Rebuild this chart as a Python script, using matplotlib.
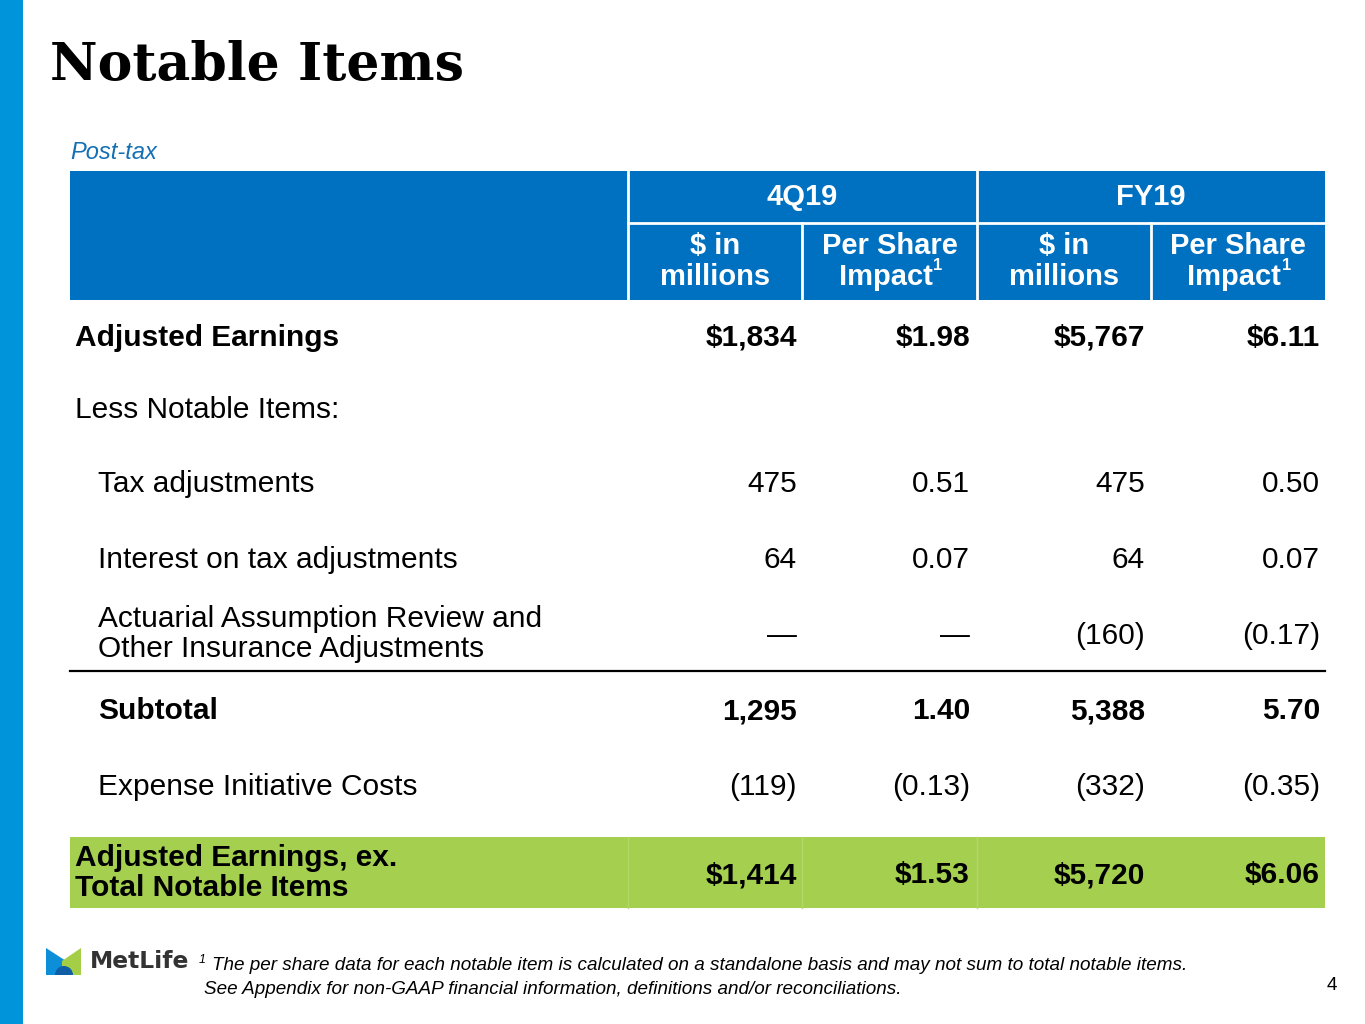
import matplotlib
matplotlib.use("Agg")
import matplotlib.pyplot as plt
from matplotlib.patches import Rectangle, Polygon, Wedge

# table contents
periods = ["4Q19", "FY19"]
sub_top = ["$ in", "Per Share", "$ in", "Per Share"]
sub_bottom = ["millions", "Impact", "millions", "Impact"]
sub_footmark = ["", "1", "", "1"]
row_labels = [
    "Adjusted Earnings",
    "Less Notable Items:",
    "Tax adjustments",
    "Interest on tax adjustments",
    "Actuarial Assumption Review and\nOther Insurance Adjustments",
    "Subtotal",
    "Expense Initiative Costs",
    "Adjusted Earnings, ex.\nTotal Notable Items",
]
q4_millions = ["$1,834", "", "475", "64", "\u2014", "1,295", "(119)", "$1,414"]
q4_per_share = ["$1.98", "", "0.51", "0.07", "\u2014", "1.40", "(0.13)", "$1.53"]
fy_millions = ["$5,767", "", "475", "64", "(160)", "5,388", "(332)", "$5,720"]
fy_per_share = ["$6.11", "", "0.50", "0.07", "(0.17)", "5.70", "(0.35)", "$6.06"]
bold_rows = [0, 5, 7]
indent_rows = [2, 3, 4, 5, 6]

footnote1 = "The per share data for each notable item is calculated on a standalone basis and may not sum to total notable items."
footnote2 = "See Appendix for non-GAAP financial information, definitions and/or reconciliations."

# colours
side_blue = "#0095DA"
head_blue = "#0070C0"
green = "#A5CF4F"
sans = "Liberation Sans"

fig = plt.figure(figsize=(13.65, 10.24), dpi=100)
ax = fig.add_axes([0, 0, 1, 1])
ax.set_xlim(0, 1365)
ax.set_ylim(1024, 0)
ax.axis("off")

# left stripe
ax.add_patch(Rectangle((0, 0), 23, 1024, color=side_blue, lw=0))

ax.text(50, 80, "Notable Items", family="DejaVu Serif", fontweight="bold",
        fontsize=37.5, va="baseline", ha="left", color="black")
ax.text(70, 159, "Post-tax", family=sans, style="italic", fontsize=17,
        va="baseline", ha="left", color="#1370B5")

# header band
left, right = 70, 1325
col_edges = [628, 802, 977, 1151, 1325]
ax.add_patch(Rectangle((left, 171), right - left, 129, color=head_blue, lw=0))
ax.plot([628, 628], [171, 300], color="white", lw=2)
ax.plot([977, 977], [171, 300], color="white", lw=2)
ax.plot([628, 1325], [223, 223], color="white", lw=2)
ax.plot([802, 802], [223, 300], color="white", lw=2)
ax.plot([1151, 1151], [223, 300], color="white", lw=2)

for i, p in enumerate(periods):
    xc = (col_edges[2 * i] + col_edges[2 * i + 2]) / 2
    ax.text(xc, 197, p, family=sans, fontweight="bold", fontsize=21,
            color="white", ha="center", va="center")
for i in range(len(sub_top)):
    xc = (col_edges[i] + col_edges[i + 1]) / 2
    hkw = dict(family=sans, fontweight="bold", fontsize=21, color="white")
    ax.text(xc, 246, sub_top[i], ha="center", va="center", **hkw)
    if sub_footmark[i]:
        ax.text(xc + 43, 277, sub_bottom[i], ha="right", va="center", **hkw)
        ax.text(xc + 44, 266, sub_footmark[i], family=sans, fontweight="bold",
                fontsize=12, color="white", ha="left", va="center")
    else:
        ax.text(xc, 277, sub_bottom[i], ha="center", va="center", **hkw)

# body
row_y = [335, 407, 481, 557, 633, 708, 784, 872]
value_x = [797, 970, 1145, 1320]

ax.add_patch(Rectangle((left, 837), right - left, 71, color=green, lw=0))
for xe in [628, 802, 977]:
    ax.plot([xe, xe], [837, 908], color="#B3D86A", lw=1)
ax.plot([left, right], [671, 671], color="black", lw=1.6)

for r, label in enumerate(row_labels):
    wt = "bold" if r in bold_rows else "normal"
    lx = 98 if r in indent_rows else 75
    if "\n" in label:
        ax.text(lx, row_y[r] + 1, label, family=sans, fontweight=wt, fontsize=21.5,
                ha="left", va="center", linespacing=1.07, color="black")
    else:
        ax.text(lx, row_y[r] + 11, label, family=sans, fontweight=wt, fontsize=21.5,
                ha="left", va="baseline", color="black")
    vals = [q4_millions[r], q4_per_share[r], fy_millions[r], fy_per_share[r]]
    for x, v in zip(value_x, vals):
        if v:
            ax.text(x, row_y[r] + 11, v, family=sans, fontweight=wt, fontsize=21.5,
                    ha="right", va="baseline", color="black")

# logo
ax.add_patch(Polygon([(46, 948), (66, 961), (66, 975), (46, 975)], closed=True,
                     color="#0C8FD8", lw=0))
ax.add_patch(Polygon([(81, 948), (62, 961), (62, 975), (81, 975)], closed=True,
                     color="#A3CE45", lw=0))
ax.add_patch(Wedge((64, 975), 9, 180, 360, color="#0F5EA6", lw=0))
ax.text(90, 962, "MetLife", family="DejaVu Sans", fontweight="bold", fontsize=16.8,
        color="#333333", ha="left", va="center")

# footnotes
ax.text(199, 960, "1", family=sans, style="italic", fontsize=9, ha="left", va="center")
ax.text(212, 966, footnote1, family=sans, style="italic", fontsize=13.6, ha="left", va="center")
ax.text(204, 989, footnote2, family=sans, style="italic", fontsize=13.6, ha="left", va="center")
ax.text(1337, 985, "4", family=sans, fontsize=13.6, ha="right", va="center")

fig.savefig("out.png", dpi=100)
